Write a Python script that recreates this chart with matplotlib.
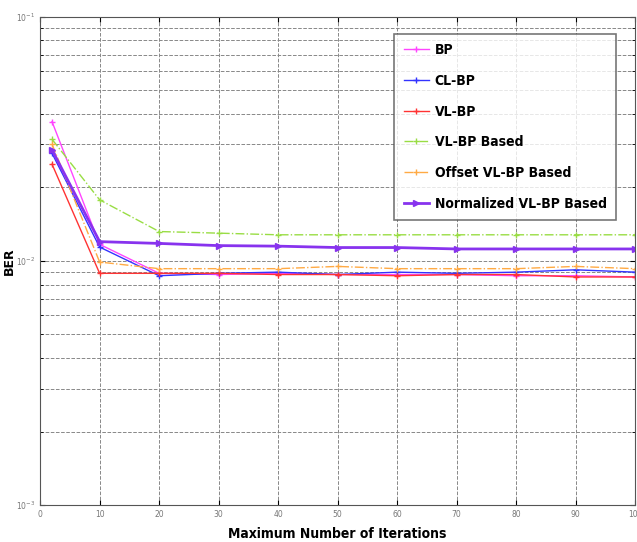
import matplotlib.pyplot as plt
import numpy as np

# iteration counts
iters = [2, 10, 20, 30, 40, 50, 60, 70, 80, 90, 100]

# BER values
ber_bp = [0.0372, 0.0117, 0.0089, 0.0088, 0.0089, 0.0088, 0.0088, 0.0088, 0.0087, 0.0087, 0.0086]
ber_clbp = [0.0276, 0.0114, 0.0087, 0.0089, 0.0090, 0.0088, 0.0090, 0.0089, 0.0090, 0.0092, 0.0090]
ber_vlbp = [0.0249, 0.0089, 0.0089, 0.0089, 0.0088, 0.0088, 0.0087, 0.0088, 0.0088, 0.0086, 0.0086]
ber_vlbp_based = [0.0315, 0.0178, 0.0132, 0.0130, 0.0128, 0.0128, 0.0128, 0.0128, 0.0128, 0.0128, 0.0128]
ber_offset = [0.0301, 0.0099, 0.0093, 0.0093, 0.0093, 0.0095, 0.0093, 0.0093, 0.0093, 0.0095, 0.0093]
ber_norm = [0.0285, 0.0120, 0.0118, 0.01156, 0.0115, 0.01135, 0.01135, 0.0112, 0.0112, 0.0112, 0.0112]

labels = ['BP', 'CL-BP', 'VL-BP', 'VL-BP Based', 'Offset VL-BP Based', 'Normalized VL-BP Based']

fig = plt.figure(figsize=(6.37, 5.42), dpi=100)
ax = fig.add_axes([0.063, 0.068, 0.934, 0.901])

ax.plot(iters, ber_bp, color='#ff44ff', marker='+', lw=1, ms=5, label=labels[0])
ax.plot(iters, ber_clbp, color='#3333ff', marker='+', lw=1, ms=5, label=labels[1])
ax.plot(iters, ber_vlbp, color='#ff3333', marker='+', lw=1, ms=5, label=labels[2])
ax.plot(iters, ber_vlbp_based, color='#99dd44', marker='+', ls='-.', lw=1, ms=5, label=labels[3])
ax.plot(iters, ber_offset, color='#ffaa44', marker='+', ls='-.', lw=1, ms=5, label=labels[4])
ax.plot(iters, ber_norm, color='#8833ee', marker='>', lw=2, ms=5, label=labels[5])

ax.set_yscale('log')
ax.set_ylim(1e-3, 1e-1)
ax.set_xlim(0, 100)
ax.set_xticks(np.arange(0, 101, 10))

ax.grid(True, which='major', axis='both', ls='--', color='#888888', lw=0.7)
ax.grid(True, which='minor', axis='y', ls='--', color='#888888', lw=0.7)
ax.tick_params(axis='both', which='both', labelsize=5.5, labelcolor='#777777',
               direction='in', top=True, right=True)
for s in ax.spines.values():
    s.set_color('#555555')

ax.set_xlabel('Maximum Number of Iterations', fontsize=10, fontweight='bold',
              fontstretch='condensed', family='DejaVu Sans', labelpad=6)
ax.set_ylabel('BER', fontsize=9, fontweight='bold')
ax.yaxis.set_label_coords(-0.04, 0.5)

leg = ax.legend(loc='upper right', bbox_to_anchor=(0.98, 0.98),
                prop={'weight': 'bold', 'family': 'DejaVu Sans', 'stretch': 'condensed', 'size': 10},
                fancybox=False, edgecolor='#555555', handlelength=1.8, labelspacing=1.2,
                borderpad=0.7, handletextpad=0.4)
leg.get_frame().set_linewidth(1.2)

fig.savefig('out.png', dpi=100)
